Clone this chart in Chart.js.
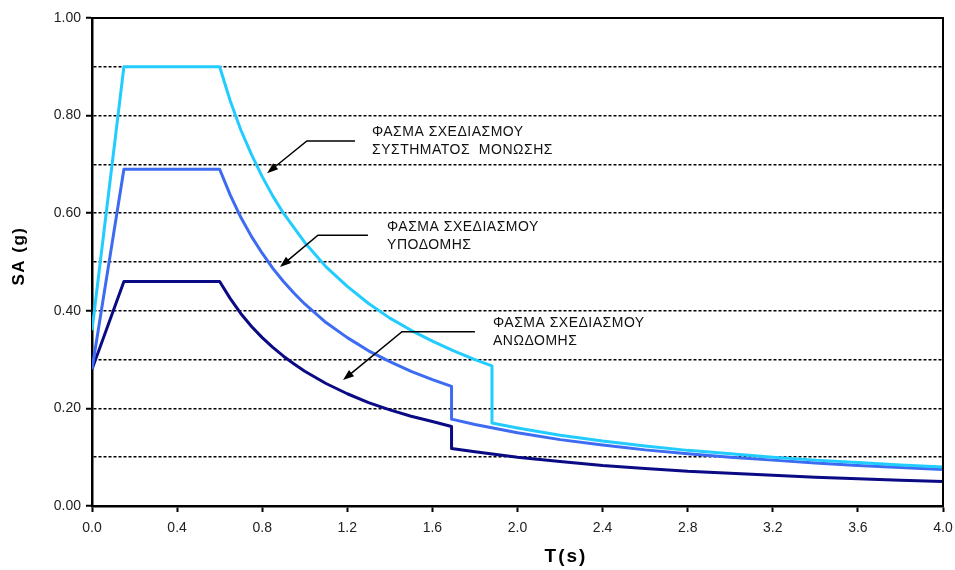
<!DOCTYPE html>
<html>
<head>
<meta charset="utf-8">
<script src="https://cdn.jsdelivr.net/npm/chart.js@4/dist/chart.umd.min.js"></script>
<style>
  html, body { margin: 0; padding: 0; background: #fff; }
  #wrap { width: 955px; height: 570px; }
</style>
</head>
<body>
<div id="wrap"><canvas id="spectrum" width="955" height="570"></canvas></div>
<script>
// Φάσμα σχεδιασμού συστήματος μόνωσης (γαλάζιο)
const tIsolation = [0, 0.15, 0.6, 0.65, 0.7, 0.75, 0.8, 0.85, 0.9, 0.95, 1.0, 1.1, 1.2, 1.3, 1.4, 1.5, 1.6, 1.7, 1.8, 1.88, 1.88, 2.0, 2.2, 2.4, 2.6, 2.8, 3.0, 3.2, 3.4, 3.6, 3.8, 4.0];
const saIsolation = [0.36, 0.90, 0.90, 0.83, 0.77, 0.72, 0.675, 0.635, 0.60, 0.57, 0.54, 0.49, 0.45, 0.415, 0.385, 0.36, 0.338, 0.318, 0.30, 0.287, 0.17, 0.16, 0.145, 0.133, 0.123, 0.114, 0.107, 0.10, 0.094, 0.089, 0.084, 0.08];

// Φάσμα σχεδιασμού υποδομής (μπλε) και ανωδομής (σκούρο μπλε)
const tStructure = [0, 0.15, 0.6, 0.65, 0.7, 0.75, 0.8, 0.85, 0.9, 0.95, 1.0, 1.1, 1.2, 1.3, 1.4, 1.5, 1.6, 1.69, 1.69, 1.8, 2.0, 2.2, 2.4, 2.6, 2.8, 3.0, 3.2, 3.4, 3.6, 3.8, 4.0];
const saSubstructure = [0.28, 0.69, 0.69, 0.637, 0.591, 0.552, 0.518, 0.487, 0.46, 0.436, 0.414, 0.376, 0.345, 0.318, 0.296, 0.276, 0.259, 0.245, 0.178, 0.167, 0.15, 0.136, 0.125, 0.115, 0.107, 0.10, 0.094, 0.088, 0.083, 0.079, 0.075];
const saSuperstructure = [0.28, 0.46, 0.46, 0.425, 0.394, 0.368, 0.345, 0.325, 0.307, 0.291, 0.276, 0.251, 0.23, 0.212, 0.197, 0.184, 0.173, 0.163, 0.118, 0.111, 0.10, 0.091, 0.083, 0.077, 0.071, 0.067, 0.063, 0.059, 0.056, 0.053, 0.05];

// σημειώσεις με βέλη (συντεταγμένες σε T, SA)
const noteText = [
    ['ΦΑΣΜΑ ΣΧΕΔΙΑΣΜΟΥ', 'ΣΥΣΤΗΜΑΤΟΣ  ΜΟΝΩΣΗΣ'],
    ['ΦΑΣΜΑ ΣΧΕΔΙΑΣΜΟΥ', 'ΥΠΟΔΟΜΗΣ'],
    ['ΦΑΣΜΑ ΣΧΕΔΙΑΣΜΟΥ', 'ΑΝΩΔΟΜΗΣ']
];
const noteAt = [[1.316, 0.766], [1.387, 0.572], [1.885, 0.375]];
const arrowTip = [[0.823, 0.682], [0.884, 0.49], [1.18, 0.258]];
const arrowElbow = [[1.01, 0.748], [1.062, 0.555], [1.457, 0.357]];
const arrowEnd = [[1.236, 0.748], [1.297, 0.555], [1.80, 0.357]];

const xTitle = 'T(s)';
const yTitle = 'SA (g)';

function toPoints(xs, ys) {
    return xs.map((x, i) => ({ x: x, y: ys[i] }));
}

// πλαίσιο, τίτλοι αξόνων και σημειώσεις
const extras = {
    id: 'extras',
    afterDatasetsDraw(chart) {
        const ctx = chart.ctx;
        const a = chart.chartArea;
        const xs = chart.scales.x, ys = chart.scales.y;

        ctx.save();
        ctx.strokeStyle = '#000';
        ctx.lineWidth = 2;
        ctx.beginPath();
        ctx.moveTo(a.left, a.top);
        ctx.lineTo(a.right, a.top);
        ctx.lineTo(a.right, a.bottom);
        ctx.stroke();

        ctx.lineWidth = 1.5;
        ctx.fillStyle = '#000';
        for (let i = 0; i < noteText.length; i++) {
            const tx = xs.getPixelForValue(arrowTip[i][0]), ty = ys.getPixelForValue(arrowTip[i][1]);
            const ex = xs.getPixelForValue(arrowElbow[i][0]), ey = ys.getPixelForValue(arrowElbow[i][1]);
            const nx = xs.getPixelForValue(arrowEnd[i][0]), ny = ys.getPixelForValue(arrowEnd[i][1]);
            const ang = Math.atan2(ty - ey, tx - ex);
            const hx = tx - 9 * Math.cos(ang), hy = ty - 9 * Math.sin(ang);
            ctx.beginPath();
            ctx.moveTo(nx, ny);
            ctx.lineTo(ex, ey);
            ctx.lineTo(hx, hy);
            ctx.stroke();
            ctx.beginPath();
            ctx.moveTo(tx, ty);
            ctx.lineTo(tx - 11 * Math.cos(ang) + 4 * Math.sin(ang), ty - 11 * Math.sin(ang) - 4 * Math.cos(ang));
            ctx.lineTo(tx - 11 * Math.cos(ang) - 4 * Math.sin(ang), ty - 11 * Math.sin(ang) + 4 * Math.cos(ang));
            ctx.closePath();
            ctx.fill();

            ctx.font = '14px "Liberation Sans", Arial, sans-serif';
            ctx.letterSpacing = '0.5px';
            ctx.fillStyle = '#111';
            ctx.textBaseline = 'middle';
            ctx.textAlign = 'left';
            const px = xs.getPixelForValue(noteAt[i][0]), py = ys.getPixelForValue(noteAt[i][1]);
            noteText[i].forEach((line, k) => ctx.fillText(line, px, py + k * 18));
            ctx.fillStyle = '#000';
        }

        ctx.fillStyle = '#000';
        ctx.font = 'bold 19px "Liberation Sans", Arial, sans-serif';
        ctx.letterSpacing = '2px';
        ctx.textAlign = 'center';
        ctx.textBaseline = 'middle';
        ctx.fillText(xTitle, 566, 557);

        ctx.translate(19, 256);
        ctx.rotate(-Math.PI / 2);
        ctx.font = 'bold 17px "Liberation Sans", Arial, sans-serif';
        ctx.letterSpacing = '1.5px';
        ctx.fillText(yTitle, 0, 0);
        ctx.restore();
    }
};

const ctx = document.getElementById('spectrum').getContext('2d');
new Chart(ctx, {
    type: 'line',
    data: {
        datasets: [
            { label: 'Σύστημα μόνωσης', data: toPoints(tIsolation, saIsolation), borderColor: '#22CCFF' },
            { label: 'Υποδομή', data: toPoints(tStructure, saSubstructure), borderColor: '#3D6BF2' },
            { label: 'Ανωδομή', data: toPoints(tStructure, saSuperstructure), borderColor: '#0A0A85' }
        ]
    },
    options: {
        responsive: false,
        devicePixelRatio: 1,
        animation: false,
        layout: { padding: { top: 18, right: 12, left: 0, bottom: 0 } },
        elements: {
            line: { borderWidth: 3, tension: 0, borderJoinStyle: 'round' },
            point: { radius: 0 }
        },
        plugins: {
            legend: { display: false },
            tooltip: { enabled: false }
        },
        scales: {
            x: {
                type: 'linear',
                min: 0,
                max: 4,
                afterFit(scale) {
                    scale.height = 64;
                    scale.paddingLeft = 0;
                    scale.paddingRight = 0;
                },
                ticks: {
                    stepSize: 0.4,
                    autoSkip: false,
                    maxRotation: 0,
                    padding: 8,
                    color: '#222',
                    font: { family: '"Liberation Sans", Arial, sans-serif', size: 14 },
                    callback: v => v.toFixed(1)
                },
                grid: { drawOnChartArea: false, color: '#000', tickLength: 6, tickWidth: 2 },
                border: { color: '#000', width: 2.5 }
            },
            y: {
                min: 0,
                max: 1,
                afterFit(scale) { scale.width = 92; },
                ticks: {
                    stepSize: 0.1,
                    autoSkip: false,
                    padding: 5,
                    color: '#222',
                    font: { family: '"Liberation Sans", Arial, sans-serif', size: 14 },
                    callback: v => (Math.round(v * 10) % 2 === 0 ? v.toFixed(2) : '')
                },
                grid: {
                    color: c => (c.tick && (c.tick.value < 0.05 || c.tick.value > 0.95) ? 'rgba(0,0,0,0)' : '#000'),
                    lineWidth: 1.5,
                    tickLength: 6,
                    tickWidth: 2,
                    tickColor: c => (c.tick && Math.round(c.tick.value * 10) % 2 === 0 ? '#000' : 'rgba(0,0,0,0)'),
                    tickBorderDash: []
                },
                border: { color: '#000', width: 2.5, dash: [3, 2] }
            }
        }
    },
    plugins: [extras]
});
</script>
</body>
</html>
